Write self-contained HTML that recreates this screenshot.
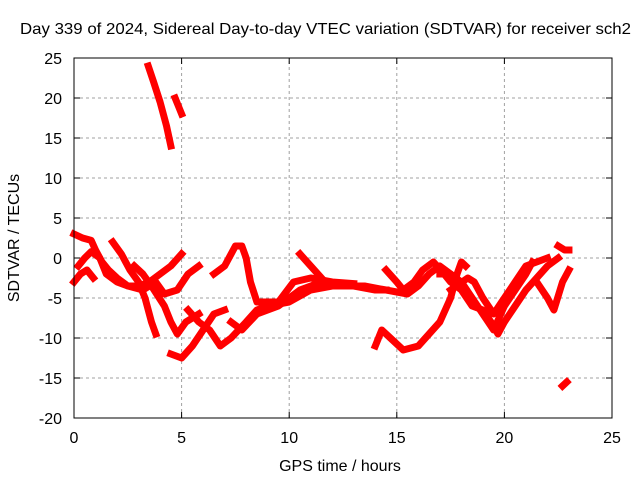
<!DOCTYPE html>
<html><head><meta charset="utf-8"><style>
body{margin:0;background:#fff}
svg text{font-family:"Liberation Sans",sans-serif;font-size:16px;fill:#000}
</style></head><body>
<svg id="chart" width="640" height="480" xmlns="http://www.w3.org/2000/svg">
<text x="20" y="34" textLength="611" lengthAdjust="spacingAndGlyphs">Day 339 of 2024, Sidereal Day-to-day VTEC variation (SDTVAR) for receiver sch2</text>
<g id="grid"></g><g id="series"></g><g id="axes"></g>
<text x="340" y="471" text-anchor="middle">GPS time / hours</text>
<text transform="translate(19,238) rotate(-90)" text-anchor="middle">SDTVAR / TECUs</text>
</svg>
<script>
const xTicks=[0,5,10,15,20,25];
const yTicks=[25,20,15,10,5,0,-5,-10,-15,-20];
const trackA=[[0,3],[0.4,2.5],[0.8,2.2],[1.0,1],[1.3,-0.5],[1.6,-1.5],[2.0,-2.5],[2.5,-3.5],[3.0,-3.5],[3.5,-3],[4.0,-2],[4.5,-1],[5.0,0.5]];
const trackB=[[0.2,-1],[0.5,0],[0.8,0.8],[1.2,0],[1.5,-2],[2.0,-3],[2.5,-3.5],[3.2,-4],[3.8,-3],[4.2,-4.5],[4.8,-4],[5.3,-2],[5.8,-1]];
const trackC=[[1.8,2],[2.2,0.5],[2.6,-1.5],[3.0,-3],[3.3,-5],[3.6,-8],[3.8,-9.5]];
const trackD=[[2.8,-1],[3.2,-2],[3.6,-3.5],[4.2,-6],[4.5,-8],[4.8,-9.5],[5.2,-8],[5.8,-7]];
const trackE=[[4.5,-12],[5.0,-12.5],[5.5,-11],[6.0,-9],[6.5,-7],[7.0,-6.5]];
const trackF=[[5.3,-6.5],[5.8,-8],[6.3,-9],[6.8,-11],[7.3,-10],[8.0,-8],[8.5,-6.5],[9,-6],[10,-5.5],[11,-4],[12,-3.5],[13,-3.5],[14,-4],[14.5,-4]];
const trackG=[[6.5,-2],[7.0,-1],[7.5,1.5],[7.8,1.5],[8.0,0],[8.2,-3],[8.5,-5.5],[9.5,-5.5],[10.2,-3],[11,-2.5],[12,-3],[13,-3.2]];
const trackH=[[7.3,-8],[7.8,-9],[8.5,-7],[9.5,-6],[10.5,-4],[11.5,-3],[12.5,-3.5],[13.5,-3.5],[14.5,-4],[15.5,-4.5],[16,-3.5],[16.5,-2],[17,-1],[17.5,-2]];
const trackI=[[10.5,0.5],[11.0,-1],[11.5,-2.5]];
const trackJ=[[14,-11],[14.3,-9],[14.7,-10],[15.3,-11.5],[16,-11],[16.5,-9.5],[17,-8],[17.5,-5],[17.8,-2],[18,-0.5],[18.2,-1]];
const trackK=[[14.5,-1.5],[15,-3],[15.3,-4],[15.8,-3],[16.2,-1.5],[16.7,-0.5],[17.2,-2],[17.5,-3],[18,-4],[18.5,-6],[19,-6.5],[19.5,-8.5],[19.7,-9.5],[20,-8],[20.5,-6],[21,-4],[21.5,-2.5],[22,-1],[22.5,0]];
const trackL=[[17,-2],[17.5,-2],[18,-3],[18.5,-5],[19,-7],[19.5,-9],[20,-6],[20.5,-4],[21,-2],[21.3,-0.5]];
const trackM=[[17.5,-4],[18.3,-2.5],[18.6,-3],[19,-5],[19.5,-7],[20.0,-5],[20.5,-3],[21,-1],[22,0]];
const trackN=[[21.5,-3],[22,-5],[22.3,-6.5],[22.7,-3],[23,-1.5]];
const trackO=[[22.5,1.5],[22.8,1],[23,1]];
const trackP=[[22.7,-16],[22.9,-15.5]];
const trackQ=[[3.45,24],[3.7,22],[4.0,19.5],[4.3,16.5],[4.5,14]];
const trackR=[[4.7,20],[4.85,19],[5.0,18]];
const trackS=[[0,-3],[0.3,-2],[0.6,-1.5],[0.9,-2.5]];
const tracks=[trackA,trackB,trackC,trackD,trackE,trackF,trackG,trackH,trackI,trackJ,trackK,trackL,trackM,trackN,trackO,trackP,trackQ,trackR,trackS];
const X0=74,X1=612,Y0=418,Y1=58;
const sx=v=>X0+(v-0)/(25-0)*(X1-X0);
const sy=v=>Y0-(v+20)/45*(Y0-Y1);
const NS="http://www.w3.org/2000/svg";
const mk=(t,a,p)=>{const e=document.createElementNS(NS,t);for(const k in a)e.setAttribute(k,a[k]);p.appendChild(e);return e;};
const grid=document.getElementById('grid'),ax=document.getElementById('axes'),ser=document.getElementById('series');
xTicks.forEach(t=>{
 if(t>0&&t<25){const g=mk('line',{x1:sx(t),x2:sx(t),y1:Y0,y2:Y1,stroke:'#a0a0a0','stroke-dasharray':'3,3'},grid);
 }
 const l=mk('text',{x:sx(t),y:Y0+25,'text-anchor':'middle'},ax);l.textContent=t;
 
 mk('line',{x1:sx(t),x2:sx(t),y1:Y0,y2:Y0-6,stroke:'#000'},ax);mk('line',{x1:sx(t),x2:sx(t),y1:Y1,y2:Y1+6,stroke:'#000'},ax);
});
yTicks.forEach(t=>{
 if(t>-20&&t<25){const g=mk('line',{x1:X0,x2:X1,y1:sy(t),y2:sy(t),stroke:'#a0a0a0','stroke-dasharray':'3,3'},grid);
 }
 const l=mk('text',{x:X0-12,y:sy(t)+6,'text-anchor':'end'},ax);l.textContent=t;
 
 mk('line',{x1:X0,x2:X0+6,y1:sy(t),y2:sy(t),stroke:'#000'},ax);mk('line',{x1:X1,x2:X1-6,y1:sy(t),y2:sy(t),stroke:'#000'},ax);
});
const fr=mk('rect',{x:X0,y:Y1,width:X1-X0,height:Y0-Y1,fill:'none',stroke:'#000'},ax);

tracks.forEach(tr=>{
 const p=mk('polyline',{points:tr.map(d=>sx(d[0])+','+sy(d[1])).join(' '),fill:'none',stroke:'#ff0000','stroke-width':7,'stroke-linejoin':'round','stroke-linecap':'square'},ser);
 
 
});
</script>
</body></html>
